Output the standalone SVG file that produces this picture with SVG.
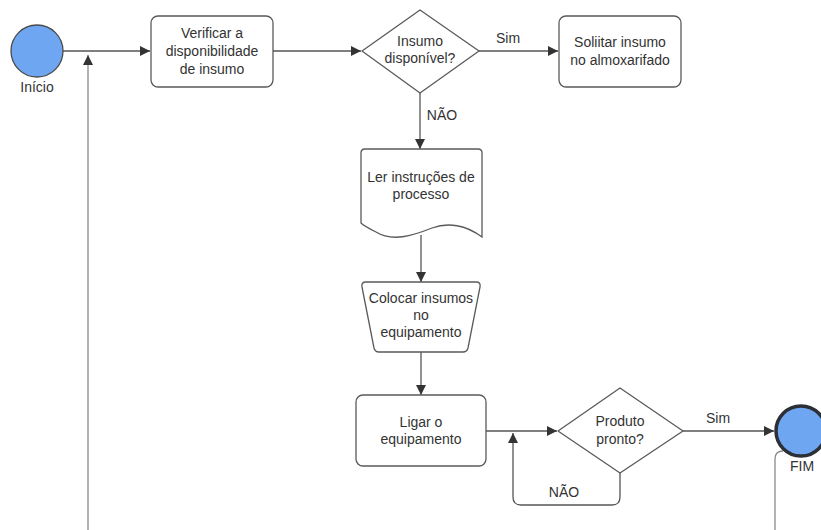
<svg xmlns="http://www.w3.org/2000/svg" width="821" height="530" viewBox="0 0 821 530">
<defs>
<style>
.shape{fill:#ffffff;stroke:#5a5a5a;stroke-width:1.3}
.start{fill:#6ea6f2;stroke:#4a4a4a;stroke-width:1.3}
.end{fill:#6ea6f2;stroke:#2c2f36;stroke-width:3.5}
.t{font-family:"Liberation Sans",Arial,sans-serif;font-size:14px;fill:#333333;text-anchor:middle}
.lbl{font-family:"Liberation Sans",Arial,sans-serif;font-size:14px;fill:#333333;text-anchor:middle}
.c{fill:none;stroke:#555555;stroke-width:1.3}
.cg{fill:none;stroke:#8a8a8a;stroke-width:1.3}
</style>
<marker id="ah" viewBox="0 0 10 10" refX="10" refY="5" markerWidth="10" markerHeight="10" markerUnits="userSpaceOnUse" orient="auto">
<path d="M0,0 L10,5 L0,10 Z" fill="#333333"/>
</marker>
</defs>
<rect width="821" height="530" fill="#ffffff"/>

<g id="connectors">
<path class="c" d="M63,51 H150" marker-end="url(#ah)"/>
<path class="cg" d="M88,530 V55" marker-end="url(#ah)"/>
<path class="c" d="M273,51 H361" marker-end="url(#ah)"/>
<path class="c" d="M479,51 H558" marker-end="url(#ah)"/>
<path class="c" d="M420,93 V149" marker-end="url(#ah)"/>
<path class="c" d="M421,235 V282" marker-end="url(#ah)"/>
<path class="c" d="M421,352 V395" marker-end="url(#ah)"/>
<path class="c" d="M486,431 H557" marker-end="url(#ah)"/>
<path class="c" d="M620,473 V497 Q620,505 612,505 H521 Q513,505 513,497 V433" marker-end="url(#ah)"/>
<path class="c" d="M683,431 H774" marker-end="url(#ah)"/>
<path class="cg" d="M783,451 Q775,451 775,459 V530"/>
<text class="lbl" x="508" y="43">Sim</text>
<text class="lbl" x="442" y="120">NÃO</text>
<text class="lbl" x="564" y="497">NÃO</text>
<text class="lbl" x="718" y="423">Sim</text>
</g>

<g id="inicio">
<circle class="start" cx="37" cy="51" r="26"/>
<text class="t" x="37" y="92">Início</text>
</g>

<g id="verificar">
<rect class="shape" x="151" y="16" width="122" height="71" rx="7"/>
<text class="t" x="212" y="38">Verificar a</text>
<text class="t" x="212" y="56">disponibilidade</text>
<text class="t" x="212" y="74">de insumo</text>
</g>

<g id="insumo-disponivel">
<path class="shape" d="M420,10 L479,51 L420,93 L362,51 Z" stroke-linejoin="round"/>
<text class="t" x="420" y="46">Insumo</text>
<text class="t" x="420" y="63">disponível?</text>
</g>

<g id="solicitar">
<rect class="shape" x="559" y="16" width="122" height="71" rx="7"/>
<text class="t" x="620" y="47">Soliitar insumo</text>
<text class="t" x="620" y="65">no almoxarifado</text>
</g>

<g id="ler-instrucoes">
<path class="shape" d="M365,149 H478 Q482,149 482,153 V237 C466,225 448,222 432,228 C412,236 392,242 376,232 C368,228 363,225 361,223 V153 Q361,149 365,149 Z"/>
<text class="t" x="421" y="182">Ler instruções de</text>
<text class="t" x="421" y="199">processo</text>
</g>

<g id="colocar-insumos">
<path class="shape" d="M366,282 H476 Q481,282 480,287 L468,348 Q467,352 463,352 H379 Q375,352 374,348 L362,287 Q361,282 366,282 Z"/>
<text class="t" x="421" y="303">Colocar insumos</text>
<text class="t" x="421" y="320">no</text>
<text class="t" x="421" y="337">equipamento</text>
</g>

<g id="ligar">
<rect class="shape" x="356" y="395" width="130" height="71" rx="7"/>
<text class="t" x="421" y="427">Ligar o</text>
<text class="t" x="421" y="444">equipamento</text>
</g>

<g id="produto-pronto">
<path class="shape" d="M620,388 L683,431 L620,473 L558,431 Z" stroke-linejoin="round"/>
<text class="t" x="620" y="426">Produto</text>
<text class="t" x="620" y="444">pronto?</text>
</g>

<g id="fim">
<circle class="end" cx="801" cy="431" r="25"/>
<text class="t" x="802" y="471">FIM</text>
</g>
</svg>
